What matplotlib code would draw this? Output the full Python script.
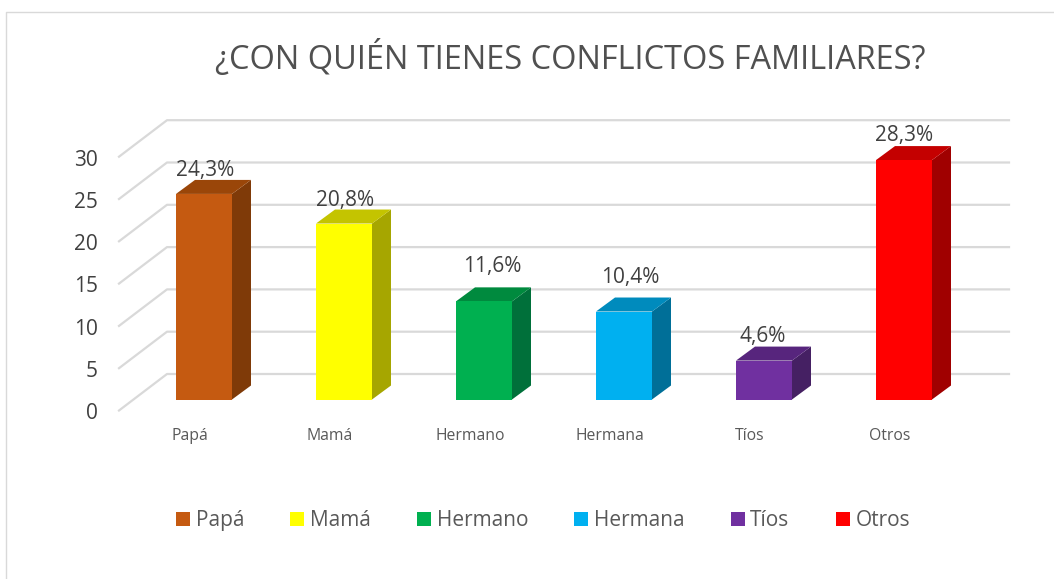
import numpy as np
from matplotlib import pyplot as plt
from matplotlib.patches import Polygon, Rectangle, Patch

categorias = ['Papá', 'Mamá', 'Hermano', 'Hermana', 'Tíos', 'Otros']
valores = [24.3, 20.8, 11.6, 10.4, 4.6, 28.3]
etiquetas = ['24,3%', '20,8%', '11,6%', '10,4%', '4,6%', '28,3%']
colores = ['#C55A11', '#FFFF00', '#00B050', '#00B0F0', '#7030A0', '#FF0000']
color_top = ['#9A4609', '#C4C400', '#008A3E', '#008BBD', '#57257D', '#C40000']
color_lado = ['#7F3A08', '#A6A600', '#00703A', '#006F98', '#452063', '#A00000']
ticks_y = [0, 5, 10, 15, 20, 25, 30]

# desplazamiento de cada etiqueta respecto a su barra, en pixeles
etq_dx = [1, 1, 8, 6, -1, 0]
etq_dy = [23, 23.5, 35, 34, 24.5, 24.5]

W, H = 1054, 579
px_cat = 140.0   # pixeles entre categorias
px_val = 8.46    # pixeles por unidad
x0_px, y0_px = 204.0, 399.5

plt.rcParams['font.family'] = ['Open Sans', 'DejaVu Sans']
fig = plt.figure(figsize=(W / 100, H / 100), dpi=100)
ax = fig.add_axes([0, 0, 1, 1])
ax.set_xlim(-x0_px / px_cat, (W - x0_px) / px_cat)
ax.set_ylim((y0_px - H) / px_val, y0_px / px_val)
ax.axis('off')

# profundidad en unidades de datos
dx = 19 / px_cat
dy = 14 / px_val
ancho = 56 / px_cat
izq = (119 - x0_px) / px_cat
fondo = (167 - x0_px) / px_cat
der = (1009 - x0_px) / px_cat
suelo = -11 / px_val
atras = 25.5 / px_val

# rejilla
for t in ticks_y:
    ax.plot([izq, fondo, der], [t + suelo, t + atras, t + atras], color='#D9D9D9', lw=1.6, zorder=1)
    ax.text((98 - x0_px) / px_cat, t + suelo - 0.4, str(t), ha='right', va='center', fontsize=15, color='#404040')

# barras
for i, v in enumerate(valores):
    x1 = i - ancho / 2
    x2 = i + ancho / 2
    ax.add_patch(Polygon([[x2, 0], [x2 + dx, dy], [x2 + dx, v + dy], [x2, v]], fc=color_lado[i], ec='none', zorder=3))
    ax.add_patch(Polygon([[x1, v], [x1 + dx, v + dy], [x2 + dx, v + dy], [x2, v]], fc=color_top[i], ec='none', zorder=3))
    ax.add_patch(Rectangle((x1, 0), ancho, v, fc=colores[i], ec='none', zorder=4))
    ax.text(i + etq_dx[i] / px_cat, v + etq_dy[i] / px_val, etiquetas[i], ha='center', va='center',
            fontsize=15, color='#404040', zorder=5)
    ax.text(i - 14 / px_cat, -4.35, categorias[i], ha='center', va='center', fontsize=11.3, color='#595959')

ax.text((570 - x0_px) / px_cat, (y0_px - 58.5) / px_val, '¿CON QUIÉN TIENES CONFLICTOS FAMILIARES?',
        ha='center', va='center', fontsize=23.4, color='#505050')

# marco
ax.plot([(6 - x0_px) / px_cat, (6 - x0_px) / px_cat, (1053 - x0_px) / px_cat],
        [(y0_px - H) / px_val, (y0_px - 12) / px_val, (y0_px - 12) / px_val], color='#D9D9D9', lw=1)

handles = [Patch(fc=c, ec='none') for c in colores]
fig.legend(handles, categorias, loc='center', bbox_to_anchor=(543 / W, 1 - 520.5 / H), ncol=6, frameon=False,
           fontsize=15, labelcolor='#595959', handlelength=0.67, handleheight=0.67,
           handletextpad=0.27, columnspacing=2.22)

fig.savefig('out.png', dpi=100)
